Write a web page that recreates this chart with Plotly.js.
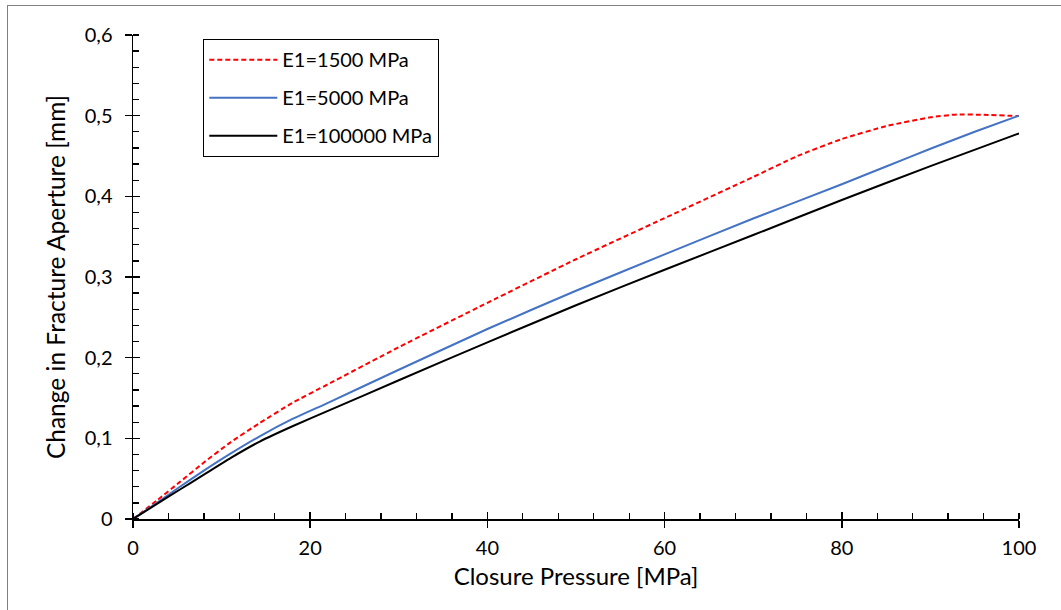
<!DOCTYPE html>
<html>
<head>
<meta charset="utf-8">
<script src="https://cdn.plot.ly/plotly-3.0.1.min.js"></script>
<style>
  html, body { margin: 0; padding: 0; background: #fff; }
  #wrap { position: relative; width: 1061px; height: 610px; }
  #chart { width: 1061px; height: 610px; }
  #frame { position: absolute; left: 7px; top: 5px; width: 1100px; height: 700px;
           border-left: 1px solid #7f7f7f; border-top: 1px solid #7f7f7f; pointer-events: none; }
</style>
</head>
<body>
<div id="wrap">
  <div id="chart"></div>
  <div id="frame"></div>
</div>
<script>
// Closure pressure [MPa] and change in fracture aperture [mm]
const pressureRed   = [0, 2.7, 5.3, 8, 11, 14.3, 18, 22, 30, 40, 50, 60, 70, 75, 80, 85, 90, 93, 96, 100];
const apertureRed   = [0, 0.023, 0.046, 0.070, 0.095, 0.119, 0.144, 0.167, 0.213, 0.268, 0.322, 0.373, 0.424, 0.450, 0.471, 0.487, 0.498, 0.5015, 0.501, 0.4995];

const pressureBlue  = [0, 2.7, 5.3, 8, 11, 14.3, 18, 22, 30, 40, 50, 60, 70, 80, 85, 90, 95, 100];
const apertureBlue  = [0, 0.020, 0.040, 0.060, 0.081, 0.1025, 0.124, 0.144, 0.185, 0.2355, 0.283, 0.328, 0.3725, 0.415, 0.437, 0.459, 0.480, 0.500];

const pressureBlack = [0, 2.7, 5.3, 8, 11, 14.3, 18, 22, 30, 40, 50, 60, 70, 80, 90, 100];
const apertureBlack = [0, 0.0187, 0.0366, 0.055, 0.0755, 0.096, 0.115, 0.134, 0.172, 0.219, 0.265, 0.309, 0.352, 0.3955, 0.4375, 0.478];

const seriesNames = ['E1=1500 MPa', 'E1=5000 MPa', 'E1=100000 MPa'];

const FONT = 'Lato, "Open Sans", sans-serif';

const traces = [
  { x: pressureRed, y: apertureRed, name: seriesNames[0], mode: 'lines', legendgroup: 'a',
    line: { color: '#FF0000', width: 2, dash: '5px,3px', shape: 'spline', smoothing: 0.5 } },
  { x: pressureBlue, y: apertureBlue, name: seriesNames[1], mode: 'lines', legendgroup: 'b',
    line: { color: '#4472C4', width: 2, shape: 'spline', smoothing: 0.5 } },
  { x: pressureBlack, y: apertureBlack, name: seriesNames[2], mode: 'lines', legendgroup: 'c',
    line: { color: '#000000', width: 2, shape: 'spline', smoothing: 0.5 } },
  // helper trace to activate the inner-tick overlay axes
  { x: [0], y: [0], xaxis: 'x2', yaxis: 'y2', mode: 'markers', marker: { opacity: 0 },
    showlegend: false, hoverinfo: 'skip' }
];

const layout = {
  width: 1061, height: 610,
  paper_bgcolor: '#fff', plot_bgcolor: '#fff',
  separators: ', ',
  margin: { l: 133, r: 42, t: 35, b: 91 },
  font: { family: FONT, size: 20, color: '#000' },
  showlegend: true,
  legend: {
    x: 0.079, y: 0.992, xanchor: 'left', yanchor: 'top',
    bgcolor: '#fff', bordercolor: '#000', borderwidth: 1.3,
    font: { family: FONT, size: 20, color: '#000' },
    traceorder: 'grouped', tracegroupgap: 9, itemwidth: 68
  },
  xaxis: {
    range: [0, 100], dtick: 20, tick0: 0,
    showgrid: false, zeroline: false,
    showline: true, linecolor: '#000', linewidth: 1.5,
    ticks: 'outside', ticklen: 7, tickwidth: 1.5, tickcolor: '#000',
    minor: { ticks: 'inside', dtick: 4, ticklen: 6, tickwidth: 1.3, tickcolor: '#000', showgrid: false },
    tickfont: { family: FONT, size: 20, color: '#000' },
    ticklabelstandoff: 3,
    title: { text: 'Closure Pressure [MPa]', font: { family: FONT, size: 24, color: '#000' }, standoff: 10 }
  },
  yaxis: {
    range: [0, 0.6], dtick: 0.1, tick0: 0,
    showgrid: false, zeroline: false,
    showline: true, linecolor: '#000', linewidth: 1.5,
    ticks: 'outside', ticklen: 7, tickwidth: 1.5, tickcolor: '#000',
    minor: { ticks: 'inside', dtick: 0.02, ticklen: 6, tickwidth: 1.3, tickcolor: '#000', showgrid: false },
    tickfont: { family: FONT, size: 20, color: '#000' },
    ticklabelstandoff: 8,
    title: { text: 'Change in Fracture Aperture [mm]', font: { family: FONT, size: 24.5, color: '#000' }, standoff: 12 }
  },
  xaxis2: {
    overlaying: 'x', matches: 'x', range: [0, 100], dtick: 20, tick0: 0,
    showgrid: false, zeroline: false, showline: false, showticklabels: false,
    ticks: 'inside', ticklen: 7, tickwidth: 1.5, tickcolor: '#000', side: 'bottom', anchor: 'y2'
  },
  yaxis2: {
    overlaying: 'y', matches: 'y', range: [0, 0.6], dtick: 0.1, tick0: 0,
    showgrid: false, zeroline: false, showline: false, showticklabels: false,
    ticks: 'inside', ticklen: 7, tickwidth: 1.5, tickcolor: '#000', side: 'left', anchor: 'x2'
  }
};

Plotly.newPlot('chart', traces, layout, { displayModeBar: false, staticPlot: true });
</script>
</body>
</html>
